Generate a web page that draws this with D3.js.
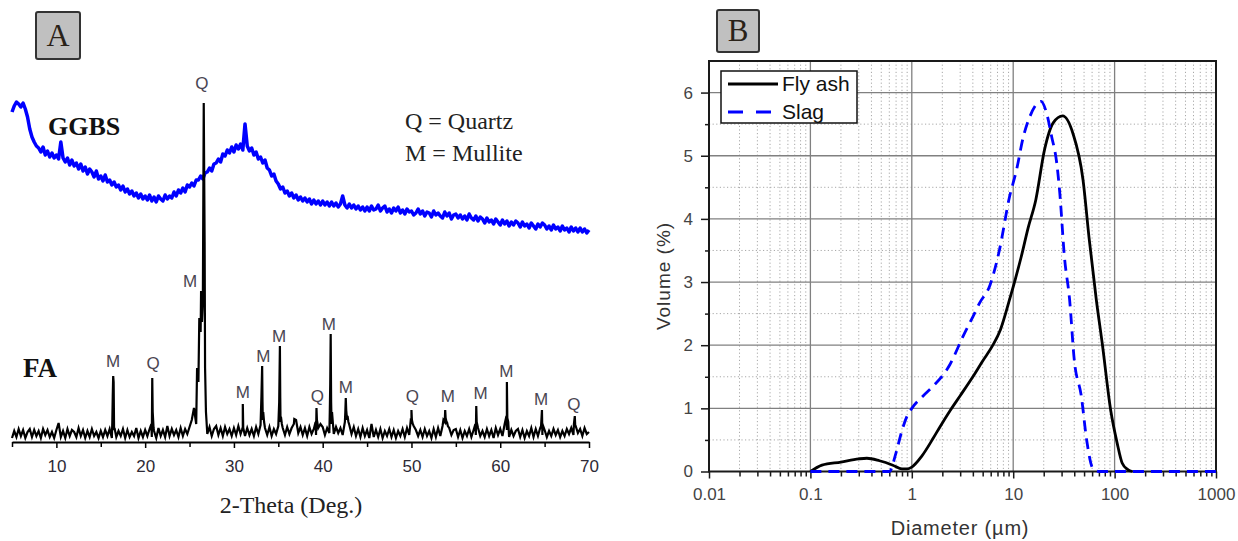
<!DOCTYPE html>
<html><head><meta charset="utf-8">
<script src="https://cdn.jsdelivr.net/npm/d3@7"></script>
<style>
body{margin:0;background:#fff;}
svg{display:block;}
.sans{font-family:"Liberation Sans",Arial,sans-serif;}
.serif{font-family:"Liberation Serif","Times New Roman",serif;}
</style></head><body>
<svg id="chart" width="1238" height="541"></svg>
<script>
// ---------- Panel A : XRD ----------
const thetaStart = 5, thetaStep = 0.25;
const ggbsIntensity = [
330,336,340,338, 335,339,333,325, 313,305,300,296, 294,290,295,287, 291,285,289,284,
287,283,300,284, 280,284,277,282, 276,279,273,278, 271,275,268,273, 270,265,271,263,
266,261,267,260, 262,257,260,255, 257,252,256,250, 253,248,251,246, 249,244,248,243,
246,242,247,241, 245,240,246,243, 241,247,243,246, 244,250,246,252, 249,254,250,257,
255,259,256,262, 262,266,263,269, 270,274,271,278, 279,283,280,288, 286,292,289,295,
290,297,293,298, 292,318,296,291, 294,287,290,283, 285,279,282,274, 272,266,268,261,
258,253,255,249, 251,246,249,244, 247,242,245,241, 244,240,243,238, 242,238,241,237,
241,237,240,236, 240,236,239,235, 238,246,237,234, 238,234,237,233, 236,232,235,231,
235,231,236,232, 233,237,231,234, 236,230,233,229, 234,231,235,229, 232,228,233,230,
231,227,229,233, 228,231,226,230, 229,225,231,227, 229,226,224,230, 226,229,223,227,
228,224,227,223, 226,222,228,224, 222,226,221,225, 223,219,224,220, 222,218,223,220,
217,222,218,221, 216,220,217,221, 219,215,220,216, 218,214,219,216, 213,218,215,219,
217,213,216,212, 217,213,215,211, 216,212,214,210, 215,211,214,210, 214,210,213,209,
212];
const faBaseIntensity = [
4,11,5,13, 6,12,4,10, 13,5,12,6, 11,4,13,7, 12,5,10,4,
12,19,5,11, 4,13,6,12, 10,5,14,6, 12,4,11,5, 13,6,10,4,
11,5,12,6, 13,4,12,5, 11,6,13,4, 12,5,10,6, 14,4,11,5,
12,6,13,5, 11,4,14,6, 12,5,16,6, 13,7,12,5, 14,6,13,8,
15,22,34,18, 60,110,140,74, 8,15,6,13, 16,7,14,6, 15,8,13,6,
14,7,16,8, 15,6,14,7, 13,6,15,8, 17,22,14,7, 15,6,13,8,
16,20,14,7, 15,8,14,18, 22,9,15,7, 14,6,15,8, 13,7,14,18,
15,7,14,9, 18,8,15,9, 14,7,20,22, 17,8,15,6, 13,5,14,6,
12,4,18,5, 12,5,13,4, 11,6,13,5, 12,4,11,6, 13,5,14,7,
18,16,12,6, 12,5,13,6, 11,4,13,5, 14,6,16,20, 18,14,7,12,
13,5,12,4, 11,6,13,5, 12,7,14,6, 11,5,13,6, 12,4,14,7,
13,6,18,12, 5,12,6,11, 13,5,12,4, 11,6,14,5, 13,6,14,7,
12,5,11,6, 13,7,12,5, 11,6,13,8, 14,7,16,9, 13,6,14,8,
10];
const faPeakTheta = [16.3,16.35,16.4,16.45,16.55, 20.7,20.8,20.85,20.95,
  25.85,26.1,26.3,26.4,26.6,26.7,26.85, 30.9,31.0,31.05,
  33.1,33.18,33.22,33.3,33.4, 35.1,35.18,35.22,35.3,35.4, 36.8,
  39.2,39.3,39.35, 40.8,40.85,40.9,40.95,41.05, 42.55,42.6,42.65,42.8,42.9,
  49.9,50.0,50.05,50.15, 53.6,53.8,53.85,54.0,54.1, 57.2,57.3,57.35,
  60.7,60.75,60.8,60.9, 64.6,64.7,64.75, 68.3,68.4,68.45];
const faPeakIntensity = [20,46,66,60,14, 18,64,30,14,
  74,124,151,120,339,200,30, 12,38,14,
  46,76,40,30,20, 40,96,44,25,18, 23,
  20,34,22, 30,58,108,40,30, 30,44,32,26,20,
  20,32,22,18, 22,32,24,20,16, 18,36,20,
  26,60,24,20, 16,32,18, 18,26,16];
const xrdTicks = [10,20,30,40,50,60,70];
const xrdMinorTicks = [5,15,25,35,45,55,65];
const phaseLabels = ["Q","M","M","Q","M","M","M","Q","M","M","Q","M","M","M","M","Q"];
const phaseLabelTheta = [26.4,25.05,16.4,20.9,31.0,33.3,35.1,39.4,40.7,42.6,50.1,54.1,57.8,60.7,64.6,68.3];
const phaseLabelLevel = [353,155,75,73,44,80,100,40,112,49,40,40,43,65,37,32];

// ---------- Panel B : particle size distribution ----------
const flyDiameter = [0.1,0.13,0.2,0.3,0.36,0.48,0.65,0.8,0.9,1.0,1.25,1.63,1.9,2.4,3,4,5,6.3,7.5,9.2,12,14,16.7,20.4,24.8,30.8,38.7,48.8,56,66,75.5,91.5,106,119,135,150];
const flyVolume   = [0,0.1,0.15,0.2,0.21,0.17,0.1,0.04,0.04,0.07,0.24,0.53,0.71,0.97,1.2,1.5,1.75,2.0,2.25,2.72,3.4,3.85,4.3,5.1,5.52,5.63,5.36,4.62,3.7,2.72,2.03,0.97,0.45,0.13,0.03,0];
const slagDiameter = [0.1,0.2,0.3,0.4,0.5,0.6,0.7,0.8,0.9,1.0,1.3,1.6,2.37,3.2,4.0,4.67,5.9,7.3,9.2,10.8,12.5,14.6,18.8,21.3,23.9,26.9,28.8,32,36,40,47,53,61,70,100,200,500,1000];
const slagVolume   = [0,0,0,0,0,0,0.3,0.65,0.88,1.0,1.2,1.34,1.69,2.14,2.45,2.67,2.95,3.5,4.35,4.78,5.28,5.62,5.86,5.68,5.31,4.88,4.41,3.4,2.72,1.77,1.19,0.5,0.05,0,0,0,0,0];
const psdXTicks = [0.01,0.1,1,10,100,1000];
const psdXTickLabels = ["0.01","0.1","1","10","100","1000"];
const psdYTicks = [0,1,2,3,4,5,6];
const psdYMinor = [0.5,1.5,2.5,3.5,4.5,5.5];
const seriesNames = ["Fly ash","Slag"];

const svg = d3.select("#chart");

// ================= PANEL A =================
const xA = d3.scaleLinear().domain([5,70]).range([12,589]);
const yA = d3.scaleLinear().domain([0,360]).range([442,82]);
const gA = svg.append("g");

const ggbs = ggbsIntensity.map((v,i)=>[thetaStart+i*thetaStep, v]);
const fa = faBaseIntensity.map((v,i)=>[thetaStart+i*thetaStep, v])
  .concat(faPeakTheta.map((t,i)=>[t, faPeakIntensity[i]]))
  .sort((a,b)=>a[0]-b[0]);
const lineA = d3.line().x(d=>xA(d[0])).y(d=>yA(d[1]));

gA.append("path").attr("d", lineA(ggbs)).attr("fill","none")
  .attr("stroke","#0000ff").attr("stroke-width",3.5).attr("stroke-linejoin","round");
gA.append("path").attr("d", lineA(fa)).attr("fill","none")
  .attr("stroke","#000").attr("stroke-width",2.2).attr("stroke-linejoin","miter");

const axA = gA.append("g").attr("transform",`translate(0,${yA(0)})`)
  .call(d3.axisBottom(xA).tickValues(xrdTicks).tickSize(6).tickSizeOuter(0).tickPadding(11.5));
axA.select(".domain").attr("stroke","#000").attr("stroke-width",2);
axA.selectAll(".tick line").attr("stroke","#000").attr("stroke-width",1.5);
axA.selectAll(".tick text").attr("class","sans").attr("font-size",17).attr("fill","#2e2a36");
const axAm = gA.append("g").attr("transform",`translate(0,${yA(0)})`)
  .call(d3.axisBottom(xA).tickValues(xrdMinorTicks).tickSize(5).tickFormat(""));
axAm.select(".domain").remove();
axAm.selectAll(".tick line").attr("stroke","#000").attr("stroke-width",1.5);

gA.selectAll(".phase").data(phaseLabels).enter().append("text")
  .attr("class","sans").attr("x",(d,i)=>xA(phaseLabelTheta[i])).attr("y",(d,i)=>yA(phaseLabelLevel[i]))
  .attr("text-anchor","middle").attr("font-size",17).attr("fill","#4a4652").text(d=>d);

gA.append("text").attr("class","serif").attr("x",291).attr("y",513).attr("text-anchor","middle")
  .attr("font-size",24).attr("fill","#222").text("2-Theta (Deg.)");
gA.append("text").attr("class","serif").attr("x",48).attr("y",135).attr("font-size",26)
  .attr("font-weight","bold").attr("fill","#111").text("GGBS");
gA.append("text").attr("class","serif").attr("x",23).attr("y",377).attr("font-size",27)
  .attr("font-weight","bold").attr("fill","#111").text("FA");
gA.append("text").attr("class","serif").attr("x",405).attr("y",129).attr("font-size",24)
  .attr("fill","#222").text("Q = Quartz");
gA.append("text").attr("class","serif").attr("x",405).attr("y",161).attr("font-size",24)
  .attr("fill","#222").text("M = Mullite");

// label boxes
function tag(x,y,w,h,t,fs){
  svg.append("rect").attr("x",x).attr("y",y).attr("width",w).attr("height",h).attr("rx",2)
    .attr("fill","#c0c0c0").attr("stroke","#333").attr("stroke-width",2);
  svg.append("text").attr("class","serif").attr("x",x+w/2).attr("y",y+h/2+fs*0.33)
    .attr("text-anchor","middle").attr("font-size",fs).attr("fill","#2a2218").text(t);
}
tag(36,12,44,47,"A",32);
tag(717,10,42,42,"B",31);

// ================= PANEL B =================
const xB = d3.scaleLog().domain([0.01,1000]).range([709,1216]);
const yB = d3.scaleLinear().domain([0,6.5]).range([471.5,61]);
const gB = svg.append("g");

const minorX = [];
[0.01,0.1,1,10,100].forEach(dec=>{ [2,3,4,5,6,7,8,9].forEach(m=>minorX.push(dec*m)); });

gB.append("g").selectAll("line").data(minorX).enter().append("line")
  .attr("x1",d=>xB(d)).attr("x2",d=>xB(d)).attr("y1",yB(6.5)).attr("y2",yB(0))
  .attr("stroke","#a8a8a8").attr("stroke-width",1).attr("stroke-dasharray","1.2,2.4");
gB.append("g").selectAll("line").data(psdYMinor).enter().append("line")
  .attr("x1",xB(0.01)).attr("x2",xB(1000)).attr("y1",d=>yB(d)).attr("y2",d=>yB(d))
  .attr("stroke","#a8a8a8").attr("stroke-width",1).attr("stroke-dasharray","1.2,2.4");
gB.append("g").selectAll("line").data(psdXTicks.slice(1,-1)).enter().append("line")
  .attr("x1",d=>xB(d)).attr("x2",d=>xB(d)).attr("y1",yB(6.5)).attr("y2",yB(0))
  .attr("stroke","#808080").attr("stroke-width",1.3);
gB.append("g").selectAll("line").data(psdYTicks.slice(1)).enter().append("line")
  .attr("x1",xB(0.01)).attr("x2",xB(1000)).attr("y1",d=>yB(d)).attr("y2",d=>yB(d))
  .attr("stroke","#808080").attr("stroke-width",1.3);

// frame
gB.append("rect").attr("x",xB(0.01)).attr("y",yB(6.5)).attr("width",xB(1000)-xB(0.01))
  .attr("height",yB(0)-yB(6.5)).attr("fill","none").attr("stroke","#1a1a1a").attr("stroke-width",2);

// axes
const axBy = gB.append("g").attr("transform",`translate(${xB(0.01)},0)`)
  .call(d3.axisLeft(yB).tickValues(psdYTicks).tickSize(8).tickSizeOuter(0).tickPadding(8)
    .tickFormat(d3.format("d")));
axBy.select(".domain").remove();
axBy.selectAll(".tick line").attr("stroke","#1a1a1a").attr("stroke-width",1.5);
axBy.selectAll(".tick text").attr("class","sans").attr("font-size",17).attr("fill","#444");
const axBym = gB.append("g").attr("transform",`translate(${xB(0.01)},0)`)
  .call(d3.axisLeft(yB).tickValues(psdYMinor).tickSize(4).tickFormat(""));
axBym.select(".domain").remove();
axBym.selectAll(".tick line").attr("stroke","#1a1a1a").attr("stroke-width",1.5);

const axBx = gB.append("g").attr("transform",`translate(0,${yB(0)})`)
  .call(d3.axisBottom(xB).tickValues(psdXTicks).tickSize(7).tickSizeOuter(0).tickPadding(9)
    .tickFormat((d,i)=>psdXTickLabels[i]));
axBx.select(".domain").remove();
axBx.selectAll(".tick line").attr("stroke","#1a1a1a").attr("stroke-width",1.5);
axBx.selectAll(".tick text").attr("class","sans").attr("font-size",17).attr("fill","#444");
const axBxm = gB.append("g").attr("transform",`translate(0,${yB(0)})`)
  .call(d3.axisBottom(xB).tickValues(minorX).tickSize(5).tickFormat(""));
axBxm.select(".domain").remove();
axBxm.selectAll(".tick line").attr("stroke","#1a1a1a").attr("stroke-width",1.5);

// curves
const lineB = d3.line().x(d=>xB(d[0])).y(d=>yB(d[1])).curve(d3.curveMonotoneX);
gB.append("path").attr("d", lineB(flyDiameter.map((d,i)=>[d,flyVolume[i]])))
  .attr("fill","none").attr("stroke","#000").attr("stroke-width",2.8);
gB.append("path").attr("d", lineB(slagDiameter.map((d,i)=>[d,slagVolume[i]])))
  .attr("fill","none").attr("stroke","#0000ff").attr("stroke-width",2.8).attr("stroke-dasharray","11,7");

// axis titles
gB.append("text").attr("class","sans").attr("x",960).attr("y",535).attr("text-anchor","middle")
  .attr("font-size",20).attr("letter-spacing","0.8px").attr("fill","#333").text("Diameter (\u00b5m)");
gB.append("text").attr("class","sans").attr("transform","translate(663,276) rotate(-90)")
  .attr("text-anchor","middle").attr("dominant-baseline","central")
  .attr("font-size",19).attr("letter-spacing","1px").attr("fill","#333").text("Volume (%)");

// legend
const lg = gB.append("g");
lg.append("rect").attr("x",721).attr("y",71).attr("width",136).attr("height",52)
  .attr("fill","#fff").attr("stroke","#111").attr("stroke-width",1.5);
lg.append("line").attr("x1",728).attr("x2",778).attr("y1",84).attr("y2",84)
  .attr("stroke","#000").attr("stroke-width",2.8);
lg.append("line").attr("x1",728).attr("x2",780).attr("y1",112).attr("y2",112)
  .attr("stroke","#0000ff").attr("stroke-width",2.8).attr("stroke-dasharray","15,13");
lg.selectAll(".lt").data(seriesNames).enter().append("text").attr("class","sans")
  .attr("x",782).attr("y",(d,i)=>91+i*28).attr("font-size",21).attr("fill","#111").text(d=>d);
</script>
</body></html>
